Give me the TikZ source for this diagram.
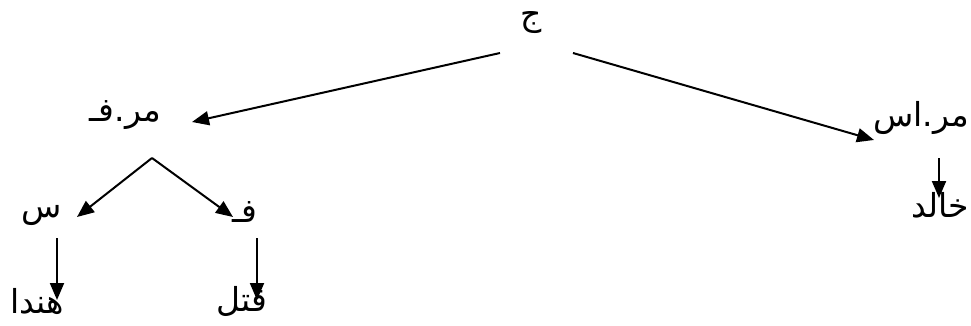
\documentclass[tikz,border=0pt]{standalone}
\usepackage{fontspec}
\usepackage{tikz}
\usetikzlibrary{arrows.meta,positioning,calc}
\TeXXeTstate=1
\newfontfamily\arabicfont[Script=Arabic]{DejaVu Sans}
\tikzset{
  word/.style={inner sep=0pt,font=\arabicfont\fontsize{33}{38}\selectfont,text=black},
  arrow/.style={-{Triangle[length=17pt,width=14pt]},line width=2pt,color=black},
}
\begin{document}
\begin{tikzpicture}[x=1pt,y=-1pt]
    \useasboundingbox (0,0) rectangle (971,326);
    \node[word] (jumla) at (531,23) {\beginR ج\endR};
    \node[word] (mrf) at (125,115) {\beginR\mbox{مر}\mbox{.}\mbox{فـ}\endR};
    \node[word] (mras) at (921,118) {\beginR\mbox{مر}\mbox{.}\mbox{اس}\endR};
    \node[word] (sin) at (42,215) {\beginR س\endR};
    \node[word] (fa) at (245,212) {\beginR فـ\endR};
    \node[word] (hinda) at (37,302) {\beginR هندا\endR};
    \node[word] (qatala) at (242,301) {\beginR قتل\endR};
    \node[word] (khalid) at (940,205) {\beginR خالد\endR};
    % free ends of the arrows
    \coordinate (jl) at (500,53);
    \coordinate (jr) at (573,53);
    \coordinate (mrfl) at (192,122);
    \coordinate (mrasr) at (874,140);
    \coordinate (apex) at (152,158);
    \coordinate (sinr) at (77,217);
    \coordinate (fal) at (233,217);
    \coordinate (hindatop) at (57,238);
    \coordinate (hindaend) at (57,300);
    \coordinate (qataltop) at (257,238);
    \coordinate (qatalend) at (257,300);
    \coordinate (khalidtop) at (939,158);
    \coordinate (khalidend) at (939,198);
    \draw[arrow] (jl) -- (mrfl);
    \draw[arrow] (jr) -- (mrasr);
    \draw[arrow] (apex) -- (sinr);
    \draw[arrow] (apex) -- (fal);
    \draw[arrow] (hindatop) -- (hindaend);
    \draw[arrow] (qataltop) -- (qatalend);
    \draw[arrow] (khalidtop) -- (khalidend);
  \end{tikzpicture}
\end{document}
